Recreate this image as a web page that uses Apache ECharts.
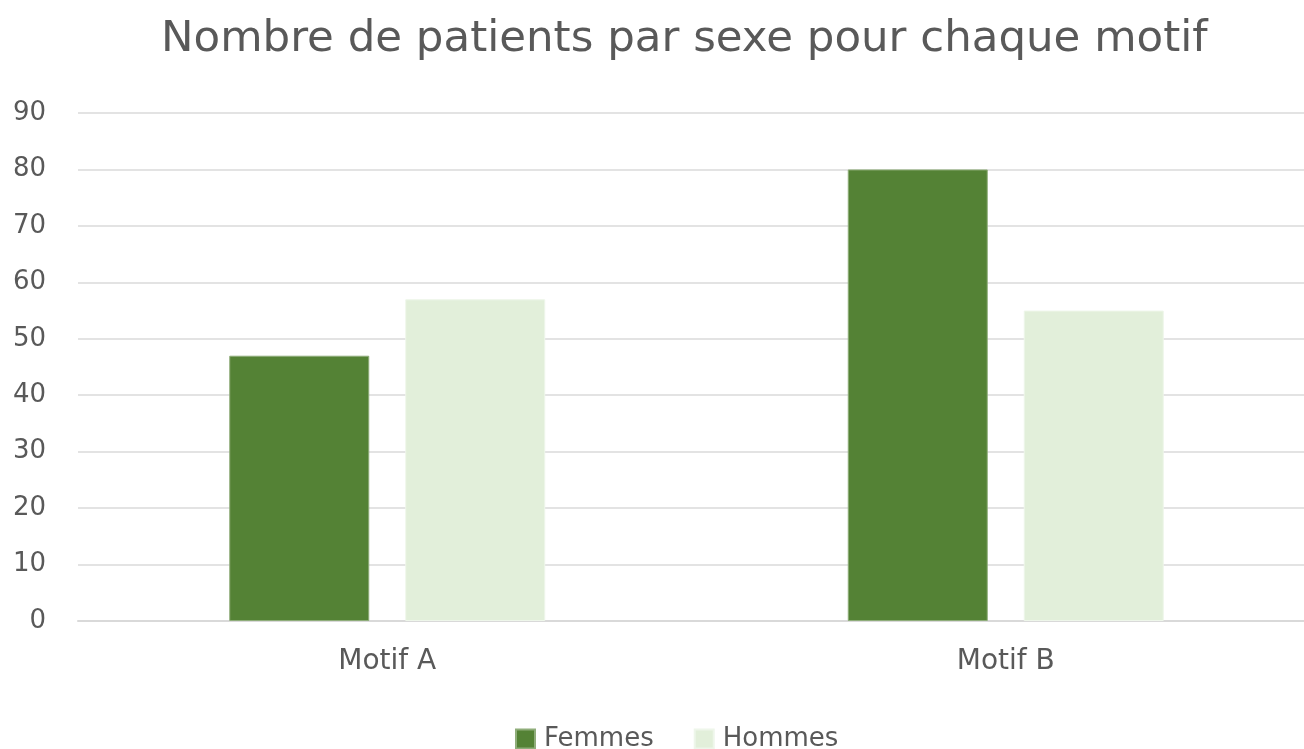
<!DOCTYPE html>
<html>
<head>
<meta charset="utf-8">
<script src="https://cdn.jsdelivr.net/npm/echarts@6/dist/echarts.min.js"></script>
<style>
  html, body { margin: 0; padding: 0; background: #fff; }
  #chart { width: 1304px; height: 749px; }
</style>
</head>
<body>
<div id="chart"></div>
<script>
var categories = ['Motif A', 'Motif B']
var femmes = [47, 80]
var hommes = [57, 55]
var yTicks = [0, 10, 20, 30, 40, 50, 60, 70, 80, 90]

var textColor = '#595959'
var font = '"DejaVu Sans", sans-serif'

var chart = echarts.init(document.getElementById('chart'))

chart.setOption({
  animation: false,
  title: {
    text: 'Nombre de patients par sexe pour chaque motif',
    left: 156,
    top: 13,
    textStyle: {
      color: textColor,
      fontFamily: font,
      fontWeight: 'normal',
      fontSize: 43.5
    }
  },
  legend: {
    top: 721,
    left: 510,
    itemWidth: 19,
    itemHeight: 19,
    itemGap: 40,
    icon: 'rect',
    textStyle: { color: textColor, fontFamily: font, fontSize: 26, padding: [0, 0, 0, 4] },
    data: ['Femmes', 'Hommes']
  },
  grid: {
    left: 78,
    top: 113,
    width: 1237,
    height: 508,
    outerBoundsMode: 'none'
  },
  xAxis: {
    type: 'category',
    data: categories,
    axisLine: { show: true, lineStyle: { color: '#d9d9d9', width: 2 } },
    axisTick: { show: false },
    axisLabel: { color: textColor, fontFamily: font, fontSize: 28, margin: 27 }
  },
  yAxis: {
    type: 'value',
    min: yTicks[0],
    max: yTicks[yTicks.length - 1],
    interval: 10,
    axisLine: { show: false },
    axisTick: { show: false },
    axisLabel: { color: textColor, fontFamily: font, fontSize: 26, margin: 32 },
    splitLine: { lineStyle: { color: '#e3e3e3', width: 2 } }
  },
  series: [
    {
      name: 'Femmes',
      type: 'bar',
      data: femmes,
      barWidth: 140,
      barGap: '25.7%',
      itemStyle: { color: '#548235', borderColor: '#8fad7a', borderWidth: 1 }
    },
    {
      name: 'Hommes',
      type: 'bar',
      data: hommes,
      barWidth: 140,
      barGap: '25.7%',
      itemStyle: { color: '#e2efda', borderColor: '#eef6ea', borderWidth: 1 }
    }
  ]
})
</script>
</body>
</html>
